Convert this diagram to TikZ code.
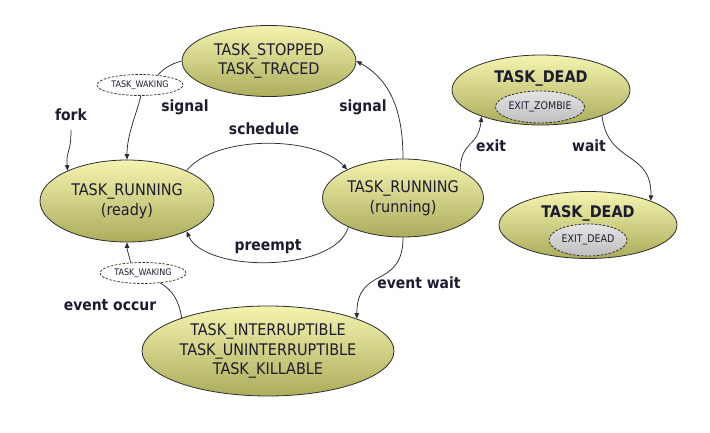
\documentclass[tikz,border=0pt]{standalone}
\usepackage{fontspec}
\setmainfont{DejaVu Sans Condensed}
\usetikzlibrary{shapes.geometric,arrows.meta}
\definecolor{stTop}{RGB}{244,244,176}
\definecolor{stBot}{RGB}{172,172,92}
\definecolor{subTop}{RGB}{228,228,228}
\definecolor{subBot}{RGB}{190,190,190}
\definecolor{txt}{RGB}{28,28,48}
\definecolor{edge}{RGB}{45,45,45}
\tikzset{
  st/.style={ellipse, draw=edge, line width=0.8pt, top color=stTop, bottom color=stBot,
    inner sep=0pt, align=center, text=txt, font=\fontsize{16}{19.5}\selectfont},
  subst/.style={ellipse, draw=edge, line width=0.8pt, dash pattern=on 2.5pt off 1.5pt,
    top color=subTop, bottom color=subBot, inner sep=0pt, text=txt,
    minimum width=78pt, minimum height=32pt, font=\fontsize{10.5}{12}\selectfont},
  wk/.style={ellipse, draw=edge, line width=0.7pt, dash pattern=on 2.5pt off 1.5pt,
    fill=white, inner sep=0pt, text=txt, minimum width=86pt, minimum height=21pt,
    font=\fontsize{9}{10}\selectfont},
  lbl/.style={text=txt, inner sep=0pt, font=\bfseries\fontsize{15.5}{18}\selectfont},
  ttl/.style={text=txt, inner sep=0pt, font=\bfseries\fontsize{16}{19}\selectfont},
  conn/.style={draw=edge, line width=0.75pt, -{Triangle[length=5.5pt,width=4.5pt]}},
  plain/.style={draw=edge, line width=0.75pt}
}
\begin{document}
\begin{tikzpicture}[x=1pt,y=-1pt]
\useasboundingbox (0,0) rectangle (710,433);
% states
\node[st, minimum width=174pt, minimum height=71pt] (stopped) at (269,61) {TASK\_STOPPED\\TASK\_TRACED};
\node[st, minimum width=174pt, minimum height=82pt] (ready) at (127,201) {TASK\_RUNNING\\(ready)};
\node[st, minimum width=161pt, minimum height=78pt] (running) at (403,198) {TASK\_RUNNING\\(running)};
\node[st, minimum width=252pt, minimum height=90pt] (sleep) at (268,351) {TASK\_INTERRUPTIBLE\\TASK\_UNINTERRUPTIBLE\\TASK\_KILLABLE};
\node[st, minimum width=178pt, minimum height=70pt] (zombie) at (541,90) {};
\node[ttl] (zombiet) at (541,78) {TASK\_DEAD};
\node[subst] (exitz) at (540,107) {EXIT\_ZOMBIE};
\node[st, minimum width=178pt, minimum height=67pt] (dead) at (588,225) {};
\node[ttl] (deadt) at (588,213) {TASK\_DEAD};
\node[subst] (exitd) at (588,240) {EXIT\_DEAD};
% waking
\node[wk] (wake1) at (140,85) {TASK\_WAKING};
\node[wk] (wake2) at (143,273) {TASK\_WAKING};
% labels
\node[lbl] (lfork) at (71,115) {fork};
\node[lbl] (lsig1) at (185,107) {signal};
\node[lbl] (lsig2) at (363,107) {signal};
\node[lbl] (lsched) at (264,129) {schedule};
\node[lbl] (lpre) at (268,247) {preempt};
\node[lbl] (lexit) at (491,146) {exit};
\node[lbl] (lwait) at (589,146) {wait};
\node[lbl] (lewait) at (419,283) {event wait};
\node[lbl] (leocc) at (110,305) {event occur};
% connectors
\coordinate (forkstart) at (71,130);
\draw[conn] (forkstart) .. controls (71,155) and (66,148) .. (ready.153);
\draw[plain] (stopped.180) .. controls (170,64) and (162,70) .. (wake1.29);
\draw[conn] (wake1.-85) .. controls (136,115) and (127,135) .. (ready.90);
\draw[conn] (running.90) .. controls (403,110) and (390,80) .. (stopped.0);
\draw[conn] (ready.27) .. controls (215,135) and (315,135) .. (running.153);
\draw[conn] (running.208) .. controls (335,273) and (205,273) .. (ready.-27);
\draw[conn] (running.26) .. controls (461,140) and (478,148) .. (zombie.204);
\draw[conn] (zombie.-23) .. controls (608,165) and (652,150) .. (dead.21);
\draw[conn] (running.270) .. controls (403,290) and (357,265) .. (sleep.20);
\draw[plain] (sleep.159) .. controls (179,300) and (172,290) .. (wake2.-30);
\draw[conn] (wake2.140) .. controls (129,255) and (127,250) .. (ready.-90);
\end{tikzpicture}
\end{document}
